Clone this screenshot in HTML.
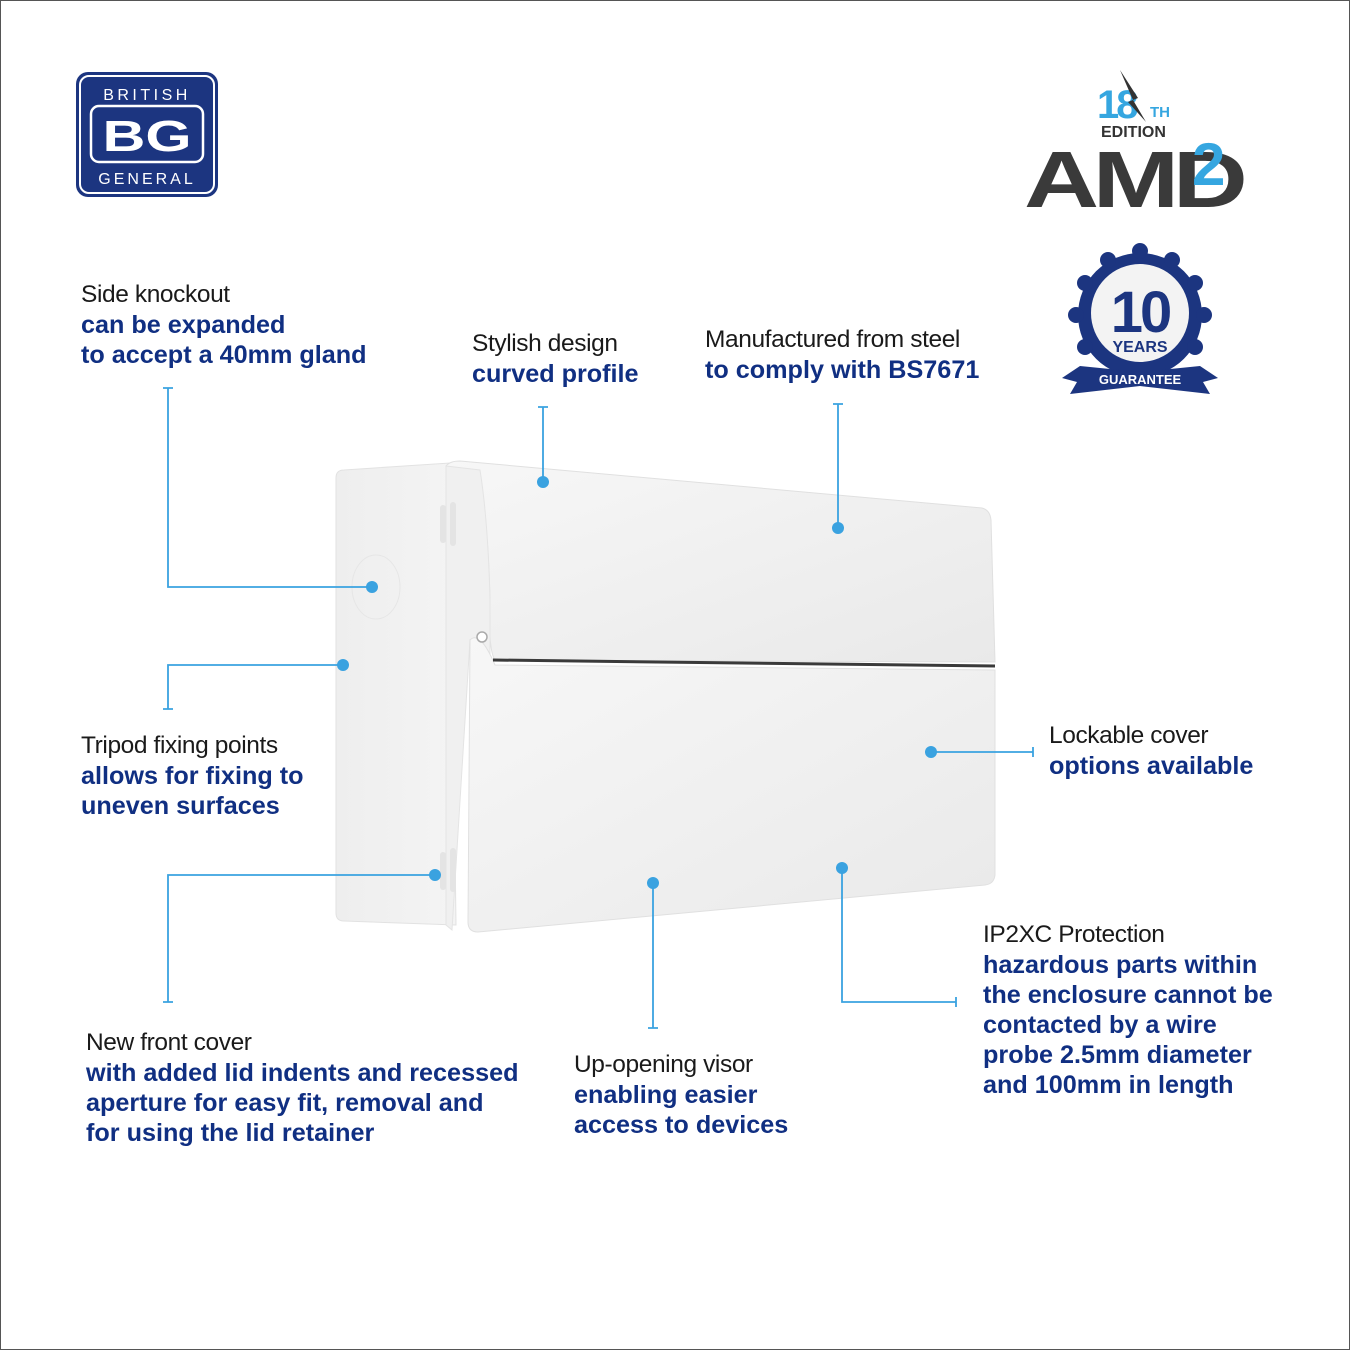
<!DOCTYPE html>
<html><head><meta charset="utf-8"><style>
html,body{margin:0;padding:0;}
body{width:1350px;height:1350px;position:relative;background:#fff;overflow:hidden;font-family:"Liberation Sans",Arial,sans-serif;}
.frame{position:absolute;left:0;top:0;width:1348px;height:1348px;border:1px solid #555;}
.t{position:absolute;font-size:24px;line-height:30px;white-space:nowrap;}
.k{color:#1a1a1a;letter-spacing:-0.4px;font-size:24.5px;}
.b{color:#102f82;font-weight:bold;font-size:25.2px;}
svg{position:absolute;left:0;top:0;}
</style></head><body>
<div class="frame"></div>
<svg width="1350" height="1350" viewBox="0 0 1350 1350">
<defs>
<linearGradient id="g1" x1="0" y1="0" x2="1" y2="1"><stop offset="0" stop-color="#f7f7f7"/><stop offset="1" stop-color="#e9e9e9"/></linearGradient>
<linearGradient id="g2" x1="0" y1="0" x2="1" y2="0"><stop offset="0" stop-color="#eeeeee"/><stop offset="1" stop-color="#f4f4f4"/></linearGradient>
</defs>
<!-- BG logo -->
<rect x="76" y="72" width="142" height="125" rx="12" fill="#1c3580"/>
<rect x="80" y="76" width="134" height="117" rx="9" fill="none" stroke="#fff" stroke-width="2"/>
<rect x="91" y="106" width="112" height="56" rx="8" fill="none" stroke="#fff" stroke-width="2.5"/>
<text x="147" y="100" text-anchor="middle" font-family="Liberation Sans" font-size="16" fill="#fff" letter-spacing="3.5">BRITISH</text>
<text x="147" y="151" text-anchor="middle" font-family="Liberation Sans" font-weight="bold" font-size="44" fill="#fff" transform="translate(147 0) scale(1.35 1) translate(-147 0)">BG</text>
<text x="147" y="184" text-anchor="middle" font-family="Liberation Sans" font-size="16" fill="#fff" letter-spacing="3">GENERAL</text>
<!-- AMD logo -->
<text x="1097" y="118" font-family="Liberation Sans" font-weight="bold" font-size="40" fill="#35a6e0" letter-spacing="-3">18</text>
<text x="1150" y="117" font-family="Liberation Sans" font-weight="bold" font-size="15" fill="#35a6e0">TH</text>
<path d="M1120 70 L1138 98 L1133 100 L1146 122 L1128 102 L1133 100 Z" fill="#333"/>
<text x="1101" y="137" font-family="Liberation Sans" font-weight="bold" font-size="16" fill="#333">EDITION</text>
<text x="1024" y="207" font-family="Liberation Sans" font-weight="bold" font-size="80" fill="#3a3a3a" letter-spacing="-5" transform="translate(1024 0) scale(1.3 1) translate(-1024 0)">AMD</text>
<text x="1192" y="185" font-family="Liberation Sans" font-weight="bold" font-size="60" fill="#35a6e0">2</text>
<!-- 10 year badge -->
<g fill="#1c3580">
<circle cx="1140" cy="315" r="62"/>
<g transform="translate(1140 315)">
<circle r="8" cx="0" cy="-64"/><circle r="8" cx="32" cy="-55"/><circle r="8" cx="55" cy="-32"/><circle r="8" cx="64" cy="0"/><circle r="8" cx="55" cy="32"/><circle r="8" cx="-32" cy="-55"/><circle r="8" cx="-55" cy="-32"/><circle r="8" cx="-64" cy="0"/><circle r="8" cx="-55" cy="32"/>
</g>
<path d="M1062 378 L1080 366 L1140 372 L1200 366 L1218 378 L1203 382 L1210 394 L1140 386 L1070 394 L1077 382 Z"/>
</g>
<circle cx="1140" cy="313" r="49" fill="#f3f3f3"/>
<text x="1140" y="332" text-anchor="middle" font-family="Liberation Sans" font-weight="bold" font-size="58" fill="#1c3580" letter-spacing="-3">10</text>
<text x="1140" y="352" text-anchor="middle" font-family="Liberation Sans" font-weight="bold" font-size="16" fill="#1c3580">YEARS</text>
<text x="1140" y="384" text-anchor="middle" font-family="Liberation Sans" font-weight="bold" font-size="13" fill="#fff">GUARANTEE</text>
<!-- enclosure -->
<path d="M336 478 Q336 470 344 470 L450 463 L456 925 L344 921 Q336 921 336 913 Z" fill="url(#g2)" stroke="#e2e2e2"/>
<path d="M446 466 Q450 461 460 461 L982 508 Q990 510 991 520 L995 662 L495 660 Q488 650 490 600 Q488 520 480 490 Z" fill="url(#g1)" stroke="#e0e0e0"/>
<path d="M446 466 L480 470 Q488 520 490 600 L490 660 L470 640 L452 930 L446 925 Z" fill="#f0f0f0" stroke="#e4e4e4"/>
<path d="M470 640 Q480 630 495 665 L995 670 L995 875 Q994 884 985 885 L478 932 Q468 932 468 922 Z" fill="url(#g1)" stroke="#e0e0e0"/>
<path d="M493 660 L995 666" stroke="#3a3a3a" stroke-width="3"/>
<circle cx="482" cy="637" r="5" fill="#fff" stroke="#aaa" stroke-width="1.5"/>
<ellipse cx="376" cy="587" rx="24" ry="32" fill="none" stroke="#e6e6e6"/>
<rect x="440" y="505" width="6" height="38" rx="3" fill="#e4e4e4"/><rect x="450" y="502" width="6" height="44" rx="3" fill="#e4e4e4"/>
<rect x="440" y="852" width="6" height="38" rx="3" fill="#e4e4e4"/><rect x="450" y="848" width="6" height="44" rx="3" fill="#e4e4e4"/>
<!-- leaders -->
<g stroke="#3aa2e0" stroke-width="1.8" fill="none">
<path d="M163 388 H173 M168 388 V587 H372"/>
<path d="M163 709 H173 M168 709 V665 H343"/>
<path d="M163 1002 H173 M168 1002 V875 H435"/>
<path d="M538 407 H548 M543 407 V482"/>
<path d="M833 404 H843 M838 404 V528"/>
<path d="M931 752 H1033 M1033 747 V757"/>
<path d="M653 883 V1028 M648 1028 H658"/>
<path d="M842 868 V1002 H956 M956 997 V1007"/>
</g>
<g fill="#3aa2e0">
<circle cx="372" cy="587" r="6"/><circle cx="343" cy="665" r="6"/><circle cx="435" cy="875" r="6"/>
<circle cx="543" cy="482" r="6"/><circle cx="838" cy="528" r="6"/><circle cx="931" cy="752" r="6"/>
<circle cx="653" cy="883" r="6"/><circle cx="842" cy="868" r="6"/>
</g>
</svg>
<div class="t" style="left:81px;top:280px"><div class="k">Side knockout</div><div class="b">can be expanded</div><div class="b">to accept a 40mm gland</div></div>
<div class="t" style="left:472px;top:329px"><div class="k">Stylish design</div><div class="b">curved profile</div></div>
<div class="t" style="left:705px;top:325px"><div class="k">Manufactured from steel</div><div class="b">to comply with BS7671</div></div>
<div class="t" style="left:81px;top:731px"><div class="k">Tripod fixing points</div><div class="b">allows for fixing to</div><div class="b">uneven surfaces</div></div>
<div class="t" style="left:1049px;top:721px"><div class="k">Lockable cover</div><div class="b">options available</div></div>
<div class="t" style="left:86px;top:1028px"><div class="k">New front cover</div><div class="b">with added lid indents and recessed</div><div class="b">aperture for easy fit, removal and</div><div class="b">for using the lid retainer</div></div>
<div class="t" style="left:574px;top:1050px"><div class="k">Up-opening visor</div><div class="b">enabling easier</div><div class="b">access to devices</div></div>
<div class="t" style="left:983px;top:920px"><div class="k">IP2XC Protection</div><div class="b">hazardous parts within</div><div class="b">the enclosure cannot be</div><div class="b">contacted by a wire</div><div class="b">probe 2.5mm diameter</div><div class="b">and 100mm in length</div></div>
</body></html>
